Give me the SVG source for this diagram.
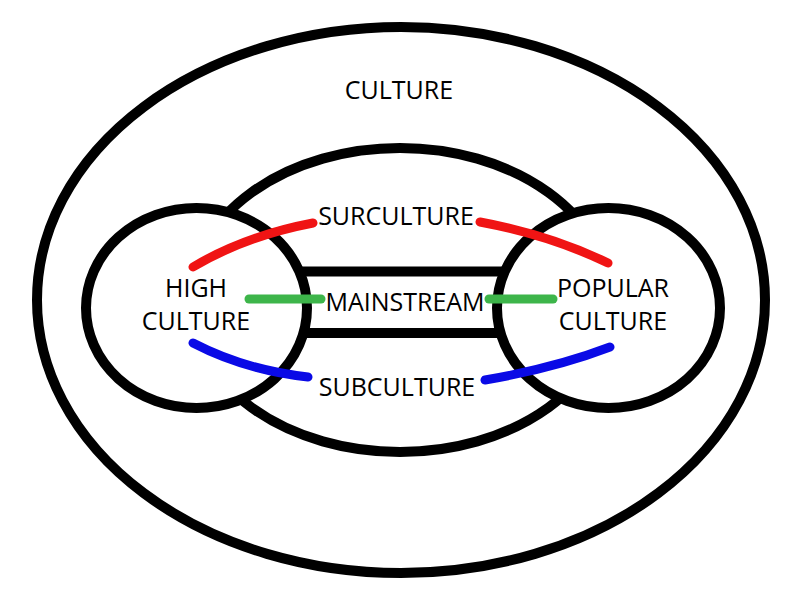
<svg xmlns="http://www.w3.org/2000/svg" width="799" height="600" viewBox="0 0 799 600">
<style>
.sh{fill:#fff;stroke:#000;stroke-width:10}
.lbl{font-family:"Open Sans","Liberation Sans",sans-serif;font-size:25px;fill:#000;text-anchor:middle}
.c{fill:none;stroke-width:9;stroke-linecap:round}
.r{stroke:#f01414}.g{stroke:#3db54a}.b{stroke:#0a0ae6}
</style>
<rect width="799" height="600" fill="#fff"/>
<g id="culture">
<ellipse class="sh" cx="401" cy="300" rx="364" ry="273" stroke-width="11"/>
<text class="lbl" x="399" y="99">CULTURE</text>
</g>
<g id="middle">
<ellipse class="sh" cx="400" cy="300" rx="210" ry="152"/>
</g>
<g id="mainstream">
<rect class="sh" x="290" y="271.5" width="225" height="61.5" stroke-width="9"/>
</g>
<g id="high-culture">
<ellipse class="sh" cx="196.5" cy="308" rx="110.5" ry="100"/>
<text class="lbl" x="196" y="297">HIGH</text>
<text class="lbl" x="196" y="330">CULTURE</text>
</g>
<g id="popular-culture">
<ellipse class="sh" cx="608.5" cy="308" rx="111.5" ry="100"/>
<text class="lbl" x="613" y="297">POPULAR</text>
<text class="lbl" x="613" y="330">CULTURE</text>
</g>
<g id="connectors">
<path class="c r" d="M193,267 Q245,236 313,223"/>
<path class="c r" d="M480,222 Q550,235 608,263"/>
<path class="c g" d="M249,299 H321"/>
<path class="c g" d="M489,299 H553"/>
<path class="c b" d="M193,343 Q245,370 308,377"/>
<path class="c b" d="M485,380 Q555,368 610,347"/>
</g>
<g id="labels">
<text class="lbl" x="396" y="225">SURCULTURE</text>
<text class="lbl" x="405" y="310.5">MAINSTREAM</text>
<text class="lbl" x="397" y="395.5">SUBCULTURE</text>
</g>
</svg>
